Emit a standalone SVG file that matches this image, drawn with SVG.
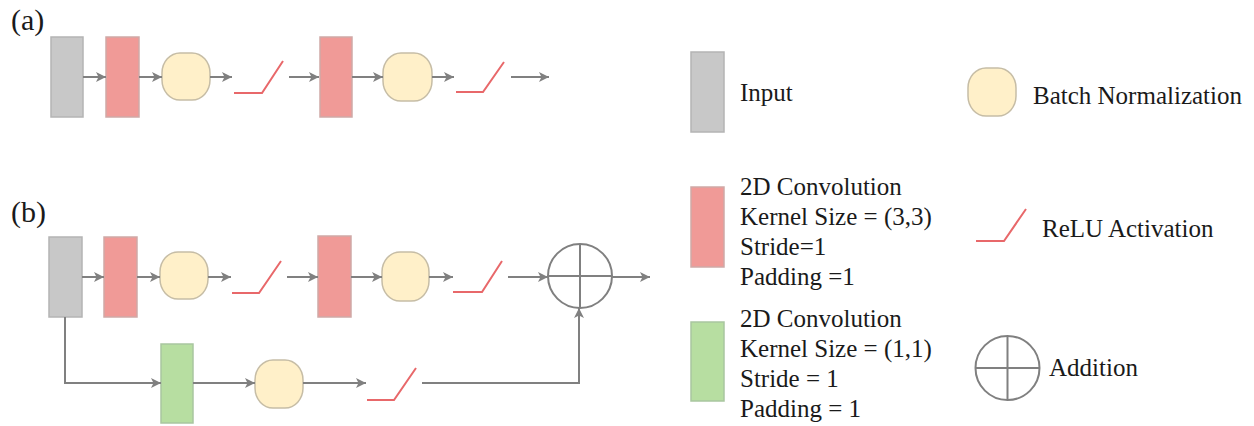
<svg xmlns="http://www.w3.org/2000/svg" width="1254" height="426" viewBox="0 0 1254 426">
  <style>
    .lbl { font-family: "Liberation Serif", "Times New Roman", serif; fill: #1a1a1a; }
    .tag { font-size: 30px; }
    .leg { font-size: 25px; }
    .inp { fill: #c8c8c8; stroke: #b4b4b4; stroke-width: 1.5; }
    .conv { fill: #f09a97; stroke: #cfa9a7; stroke-width: 1.5; }
    .conv1 { fill: #b7dea1; stroke: #a9c6a0; stroke-width: 1.5; }
    .bn { fill: #fff0c9; stroke: #c6bda6; stroke-width: 1.5; }
    .relu { fill: none; stroke: #e8686a; stroke-width: 2; }
    .add { fill: none; stroke: #808080; stroke-width: 2; }
    .edge { fill: none; stroke: #808080; stroke-width: 2; }
  </style>
  <defs>
    <marker id="arrow" viewBox="0 0 10 10" refX="10" refY="5" markerWidth="6" markerHeight="5" orient="auto" markerUnits="strokeWidth">
      <path d="M0,0 L10,5 L0,10 L2.5,5 Z" fill="#808080"/>
    </marker>
  </defs>
  <rect width="1254" height="426" fill="#ffffff"/>

  <!-- panel tags -->
  <text class="lbl tag" x="11" y="30">(a)</text>
  <text class="lbl tag" x="11" y="222">(b)</text>

  <!-- (a) plain block -->
  <g id="a-input"><rect class="inp" x="51" y="37" width="32" height="80"/></g>
  <g id="a-conv1"><rect class="conv" x="106" y="37" width="33" height="80"/></g>
  <g id="a-bn1"><rect class="bn" x="162" y="53" width="48" height="47" rx="18" ry="20"/></g>
  <g id="a-relu1"><path class="relu" d="M234,93 H262 L283,61"/></g>
  <g id="a-conv2"><rect class="conv" x="320" y="37" width="32" height="80"/></g>
  <g id="a-bn2"><rect class="bn" x="383" y="53" width="49" height="48" rx="18" ry="20"/></g>
  <g id="a-relu2"><path class="relu" d="M456,92 H483 L504,62"/></g>

  <!-- (b) residual block -->
  <g id="b-input"><rect class="inp" x="49" y="237" width="33" height="80"/></g>
  <g id="b-conv1"><rect class="conv" x="104" y="237" width="33" height="80"/></g>
  <g id="b-bn1"><rect class="bn" x="160" y="252" width="48" height="47" rx="18" ry="20"/></g>
  <g id="b-relu1"><path class="relu" d="M232,293 H259 L281,261"/></g>
  <g id="b-conv2"><rect class="conv" x="318" y="236" width="33" height="81"/></g>
  <g id="b-bn2"><rect class="bn" x="382" y="252" width="47" height="49" rx="18" ry="20"/></g>
  <g id="b-relu2"><path class="relu" d="M453,292 H482 L502,261"/></g>
  <g id="b-add">
    <circle class="add" cx="580" cy="276" r="32"/>
    <path class="add" d="M548,276 H612 M580,244 V308"/>
  </g>
  <g id="b-conv-skip"><rect class="conv1" x="161" y="344" width="32" height="79"/></g>
  <g id="b-bn-skip"><rect class="bn" x="255" y="360" width="48" height="48" rx="18" ry="20"/></g>
  <g id="b-relu-skip"><path class="relu" d="M367,400 H394 L416,368"/></g>

  <!-- connectors -->
  <g id="connectors" class="edge" marker-end="url(#arrow)">
    <path d="M83,77 H106"/>
    <path d="M139,77 H162"/>
    <path d="M210,77 H232"/>
    <path d="M289,77 H319"/>
    <path d="M352,77 H383"/>
    <path d="M432,77 H454"/>
    <path d="M511,77 H549"/>

    <path d="M82,277 H104"/>
    <path d="M137,277 H160"/>
    <path d="M208,277 H231"/>
    <path d="M287,277 H318"/>
    <path d="M351,277 H382"/>
    <path d="M429,277 H453"/>
    <path d="M508,277 H548"/>
    <path d="M612,277 H650"/>
    <path d="M65,317 V383 H161"/>
    <path d="M193,383 H255"/>
    <path d="M303,383 H366"/>
    <path d="M422,383 H579 V308"/>
  </g>

  <!-- legend -->
  <g id="legend-input">
    <rect class="inp" x="691" y="52" width="33" height="80"/>
    <text class="lbl leg" x="740" y="101">Input</text>
  </g>
  <g id="legend-bn">
    <rect class="bn" x="968" y="68" width="48" height="48" rx="18" ry="20"/>
    <text class="lbl leg" x="1033" y="104">Batch Normalization</text>
  </g>
  <g id="legend-conv3">
    <rect class="conv" x="691" y="187" width="33" height="80"/>
    <text class="lbl leg" x="740" y="195">2D Convolution</text>
    <text class="lbl leg" x="740" y="225">Kernel Size = (3,3)</text>
    <text class="lbl leg" x="740" y="255">Stride=1</text>
    <text class="lbl leg" x="740" y="285">Padding =1</text>
  </g>
  <g id="legend-relu">
    <path class="relu" d="M976,241 H1004 L1026,209"/>
    <text class="lbl leg" x="1042" y="237">ReLU Activation</text>
  </g>
  <g id="legend-conv1">
    <rect class="conv1" x="691" y="322" width="33" height="79"/>
    <text class="lbl leg" x="740" y="327">2D Convolution</text>
    <text class="lbl leg" x="740" y="357">Kernel Size = (1,1)</text>
    <text class="lbl leg" x="740" y="387">Stride = 1</text>
    <text class="lbl leg" x="740" y="417">Padding = 1</text>
  </g>
  <g id="legend-add">
    <circle class="add" cx="1007.5" cy="368" r="32"/>
    <path class="add" d="M975.5,368 H1039.5 M1007.5,336 V400"/>
    <text class="lbl leg" x="1049" y="376">Addition</text>
  </g>
</svg>
